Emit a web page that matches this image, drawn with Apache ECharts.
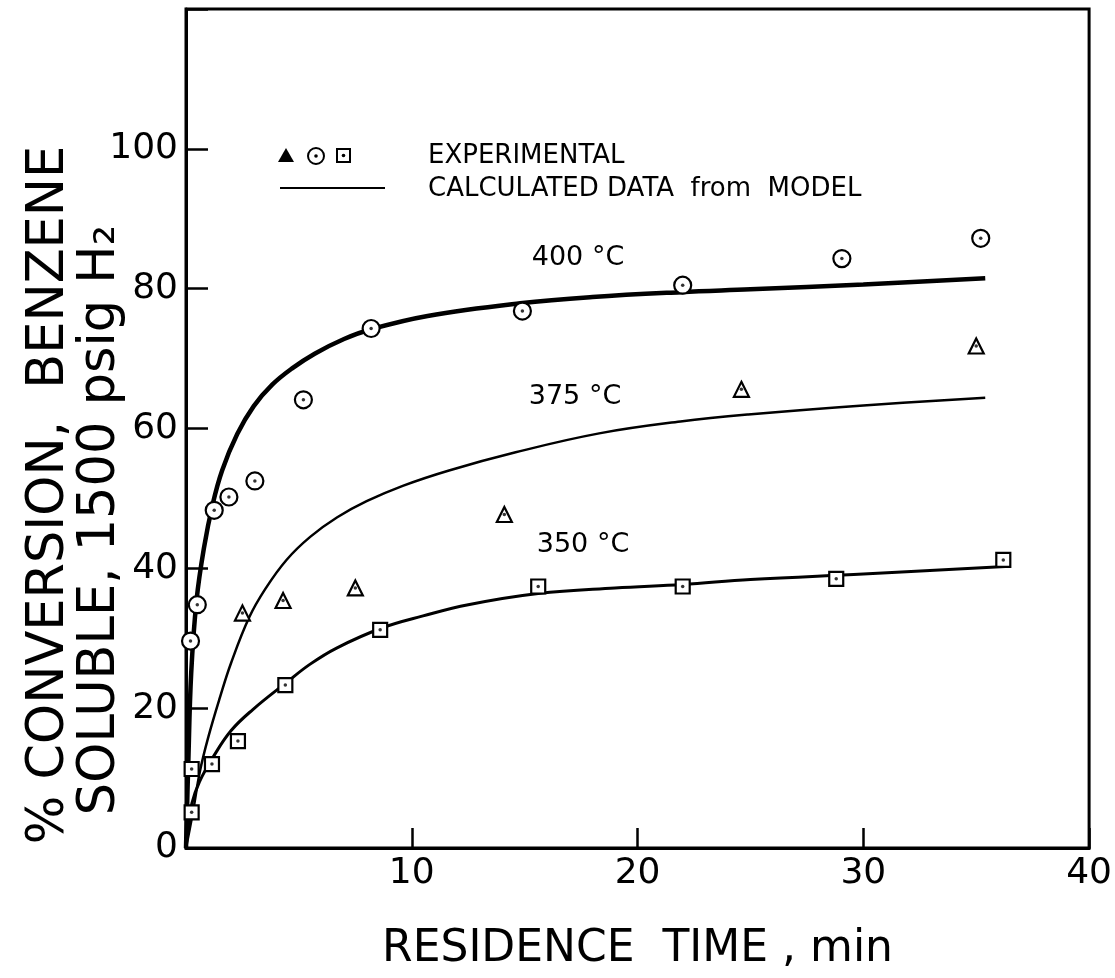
<!DOCTYPE html>
<html>
<head>
<meta charset="UTF-8">
<title>Residence time</title>
<style>html,body{margin:0;background:#fff}</style>
</head>
<body>
<div id="container" style="width:1115px;height:978px"></div>
<script src="https://cdn.jsdelivr.net/npm/echarts@6.0.0/dist/echarts.min.js"></script>
<script>
// experimental points [time min, % conversion]
var exp400 = [[0.2,29.6],[0.5,34.8],[1.25,48.3],[1.9,50.2],[3.05,52.5],[5.2,64.1],[8.2,74.3],[14.9,76.8],[22.0,80.5],[29.05,84.3],[35.2,87.2]];
var exp375 = [[2.5,33.6],[4.3,35.4],[7.5,37.2],[14.1,47.7],[24.6,65.6],[35.0,71.8]];
var exp350 = [[0.25,5.1],[0.25,11.3],[1.15,12.0],[2.3,15.3],[4.4,23.3],[8.6,31.2],[15.6,37.4],[22.0,37.4],[28.8,38.5],[36.2,41.2]];

// model curves
var model400 = [[0,0],[0.1,12],[0.23,25],[0.47,35.5],[0.8,43],[1.17,49],[1.6,54],[2.27,59.2],[3.0,63.2],[3.83,66.3],[4.7,68.6],[5.7,70.7],[7,72.8],[8.2,74.2],[10.7,76.1],[14.8,77.9],[18,78.8],[21.9,79.5],[25,79.9],[30,80.6],[35.4,81.5]];
var model375 = [[0,0],[0.3,5],[0.62,11],[1.0,16],[1.5,21.5],[2.0,26.5],[2.8,33],[3.5,37],[4.45,41.2],[5.5,44.5],[6.7,47.3],[8,49.6],[9.6,51.8],[11.65,54],[14.6,56.6],[18.3,59.3],[21.9,61],[24.9,62],[30,63.3],[35.4,64.4]];
var model350 = [[0,0],[0.1,3],[0.26,6.4],[0.6,9.5],[1.2,13],[2,16.8],[2.96,19.8],[4.46,23.7],[5.5,26.3],[6.67,28.6],[8.7,31.5],[10.5,33.2],[12.5,34.8],[15.6,36.4],[19,37.2],[22,37.7],[25,38.4],[30,39.2],[36.5,40.3]];

var tempLabels = ['400 °C', '375 °C', '350 °C'];
var xName = 'RESIDENCE  TIME , min';
var yName1 = '% CONVERSION,  BENZENE';
var yName2 = 'SOLUBLE, 1500 psig H₂';

var font = '"DejaVu Sans", sans-serif';
var dom = document.getElementById('container');
var myChart = echarts.init(dom);

function curve(data, w) {
    return {
        type: 'line', data: data, smooth: 0.4, symbol: 'none', silent: true,
        lineStyle: {color: '#000', width: w}, z: 2
    };
}
function marks(data, symbol, size) {
    return {
        type: 'scatter', data: data, symbol: symbol, symbolSize: size, z: 3,
        itemStyle: {color: '#fff', borderColor: '#000', borderWidth: 2.2, opacity: 1}
    };
}
function dots(data) {
    return {
        type: 'scatter', data: data, symbol: 'circle', symbolSize: 3.5, z: 4, silent: true,
        itemStyle: {color: '#000'}
    };
}
function label(x, y, text, size, align) {
    return {type: 'text', x: x, y: y,
        style: {text: text, font: size + 'px ' + font, fill: '#000', align: align || 'center', verticalAlign: 'middle'}};
}

var option = {
    backgroundColor: '#fff',
    animation: false,
    grid: {left: 186, right: 23, top: 9, bottom: 130, show: true, borderColor: '#000', borderWidth: 3},
    xAxis: {
        type: 'value', min: 0, max: 40, interval: 10,
        name: xName, nameLocation: 'middle', nameGap: 80,
        nameTextStyle: {fontFamily: font, fontSize: 44, color: '#000'},
        axisLine: {lineStyle: {color: '#000', width: 3}},
        axisTick: {inside: true, length: 20, lineStyle: {color: '#000', width: 2.5}},
        axisLabel: {fontFamily: font, fontSize: 36, color: '#000', margin: 8, showMinLabel: false},
        splitLine: {show: false}
    },
    yAxis: {
        type: 'value', min: 0, max: 120, interval: 20,
        axisLine: {lineStyle: {color: '#000', width: 3}},
        axisTick: {inside: true, length: 22, lineStyle: {color: '#000', width: 2.5}},
        axisLabel: {
            fontFamily: font, fontSize: 36, color: '#000', margin: 8,
            formatter: function (v) { return v === 120 ? '' : v; }
        },
        splitLine: {show: false}
    },
    graphic: [
        {type: 'text', x: 50, y: 495, rotation: Math.PI / 2,
         style: {text: yName1, font: '51px ' + font, fill: '#000', align: 'center', verticalAlign: 'middle'}},
        {type: 'text', x: 101, y: 520, rotation: Math.PI / 2,
         style: {text: yName2, font: '51px ' + font, fill: '#000', align: 'center', verticalAlign: 'middle'}},
        // legend
        {type: 'polygon', shape: {points: [[286, 148], [278, 162], [294, 162]]}, style: {fill: '#000'}},
        {type: 'circle', shape: {cx: 316, cy: 156, r: 8}, style: {fill: '#fff', stroke: '#000', lineWidth: 2}},
        {type: 'circle', shape: {cx: 316, cy: 156, r: 1.8}, style: {fill: '#000'}},
        {type: 'rect', shape: {x: 337, y: 149, width: 13, height: 13}, style: {fill: '#fff', stroke: '#000', lineWidth: 2}},
        {type: 'circle', shape: {cx: 343.5, cy: 155.5, r: 1.8}, style: {fill: '#000'}},
        {type: 'line', shape: {x1: 280, y1: 188, x2: 385, y2: 188}, style: {stroke: '#000', lineWidth: 2}},
        label(428, 156, 'EXPERIMENTAL', 26, 'left'),
        label(428, 189, 'CALCULATED DATA  from  MODEL', 26, 'left'),
        // curve labels
        label(578, 258, tempLabels[0], 27),
        label(575, 397, tempLabels[1], 27),
        label(583, 545, tempLabels[2], 27)
    ],
    series: [
        curve(model400, 4.5),
        curve(model375, 2.5),
        curve(model350, 3),
        marks(exp400, 'circle', 17),
        marks(exp375, 'triangle', 15),
        marks(exp350, 'rect', 14),
        dots(exp400),
        dots(exp375),
        dots(exp350)
    ]
};
myChart.setOption(option);
</script>
</body>
</html>
